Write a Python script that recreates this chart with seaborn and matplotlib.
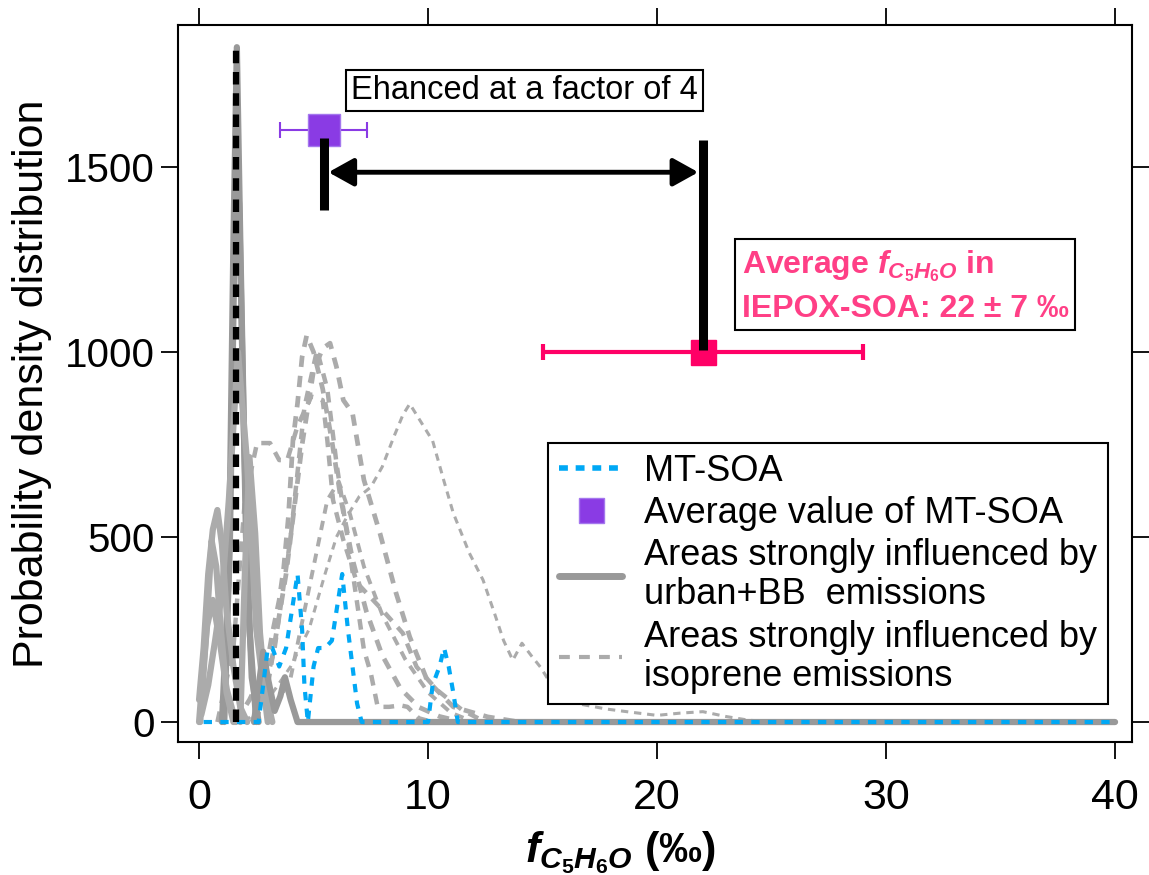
import matplotlib
matplotlib.use("Agg")
import matplotlib.pyplot as plt
from matplotlib.lines import Line2D
from matplotlib.patches import ArrowStyle
import seaborn as sns

# ---- values ----
# MT-SOA probability density (blue dashed)
mt_x = [0.2, 2.6, 2.8, 3.0, 3.2, 3.5, 3.8, 4.05, 4.3, 4.5, 4.6, 4.75, 5.0, 5.2, 5.5, 5.8,
        6.0, 6.25, 6.5, 6.7, 6.9, 7.1, 10.0, 10.2, 10.5, 10.7, 10.9, 11.1, 11.3, 40.0]
mt_y = [0, 0, 100, 200, 200, 150, 200, 300, 400, 250, 100, 0, 150, 200, 200, 220,
        300, 400, 250, 150, 50, 0, 0, 100, 150, 200, 150, 80, 0, 0]

# areas strongly influenced by urban + biomass burning emissions (grey solid)
urban_curves = [
    ([1.0, 1.3, 1.5, 1.65, 1.8, 2.05, 2.3, 2.6],
     [0, 400, 1300, 1824, 1300, 500, 120, 0]),
    ([1.1, 1.35, 1.6, 1.75, 1.95, 2.2, 2.5],
     [0, 500, 1500, 1400, 800, 250, 0]),
    ([0.0, 0.2, 0.4, 0.6, 0.8, 1.0, 1.2, 1.5, 1.8, 2.1],
     [60, 200, 400, 520, 573, 480, 300, 150, 40, 0]),
    ([0.05, 0.3, 0.55, 0.75, 0.95, 1.2, 1.5],
     [0, 230, 490, 420, 250, 80, 0]),
    ([0.1, 0.4, 0.7, 1.0, 1.3, 1.7, 2.1, 2.5, 3.0],
     [20, 100, 220, 350, 600, 1000, 700, 250, 0]),
    ([1.8, 2.0, 2.2, 2.45, 2.66, 2.9, 3.2],
     [0, 400, 716, 510, 240, 80, 0]),
    ([2.4, 2.8, 3.0, 3.3, 3.55, 3.75, 4.0, 4.3, 4.6, 40.0],
     [0, 190, 120, 30, 70, 121, 60, 0, 0, 0]),
    ([0.0, 0.15, 0.35, 0.6, 0.9, 1.2, 1.6],
     [0, 120, 260, 330, 220, 90, 0]),
]

# areas strongly influenced by isoprene emissions (grey dashed)
isoprene_curves = [
    ([1.6, 2.2, 2.6, 2.95, 3.2, 3.5, 3.7, 3.9, 4.1, 4.3, 4.5, 4.7, 5.0, 5.4, 5.8, 6.2,
      6.7, 7.3, 8.0, 8.8, 9.6, 10.5, 11.5],
     [0, 60, 110, 150, 240, 330, 419, 554, 762, 862, 987, 1045, 1000, 900, 760, 600,
      440, 300, 180, 90, 40, 15, 0]),
    ([2.3, 3.0, 3.8, 4.5, 5.0, 5.4, 5.72, 6.0, 6.3, 6.7, 7.2, 7.9, 8.6, 9.2, 9.96,
      11.1, 12.6, 14.0],
     [0, 100, 400, 750, 950, 1010, 1024, 960, 870, 835, 654, 510, 349, 230, 113,
      41, 14, 0]),
    ([0.8, 1.5, 2.0, 2.53, 3.1, 3.5, 3.85, 4.3, 4.9, 5.4, 5.6, 5.85, 6.3, 6.9, 8.0,
      8.9, 9.5, 10.4, 11.5, 12.5],
     [0, 200, 600, 754, 754, 708, 708, 800, 880, 870, 762, 600, 492, 376, 303,
      240, 149, 86, 32, 0]),
    ([2.0, 3.0, 4.0, 4.8, 5.5, 6.0, 6.5, 7.0, 7.5, 8.0, 8.5, 8.9, 9.2, 9.7, 10.2,
      10.7, 11.1, 11.8, 12.4, 12.9, 13.3, 13.7, 14.1, 14.5, 14.9, 15.5, 16.5, 17.8,
      18.8, 20.0, 21.0, 22.0, 23.0, 24.0, 25.0, 40.0],
     [0, 60, 150, 250, 400, 500, 560, 610, 635, 690, 770, 830, 860, 810, 760,
      650, 565, 457, 384, 294, 220, 167, 213, 180, 149, 90, 50, 35,
      27, 18, 24, 28, 15, 5, 0, 0]),
    ([2.5, 3.3, 4.0, 4.6, 5.15, 5.6, 6.0, 6.6, 7.2, 7.5, 7.8, 8.3, 8.8, 9.1, 9.6, 10.2],
     [0, 200, 500, 850, 1005, 900, 700, 450, 195, 132, 41, 41, 45, 41, 10, 0]),
    ([3.0, 4.0, 5.0, 5.6, 6.1, 6.6, 7.2, 8.0, 9.0, 10.0, 11.0, 12.0],
     [0, 120, 420, 600, 650, 560, 420, 290, 170, 80, 25, 0]),
]
iso_widths = [3.4, 3.4, 3.2, 2.2, 3.2, 2.8]

# black dashed reference line
ref_x = [1.6, 1.6]
ref_y = [0, 1824]

# averages with standard deviation
mt_avg_x, mt_avg_y, mt_avg_err = [5.45], [1600], [1.9]
iepox_x, iepox_y, iepox_err = [22.0], [1000], [7.0]

# factor-of-4 bracket
bracket_x = [5.45, 22.0]
bracket_low = [1384, 1005]
bracket_high = [1578, 1573]
arrow_y = 1486

blue = "#00A8F5"
purple = "#8A3BE4"
pink = "#FF0066"
pink_text = "#FF3F86"
grey = "#999999"
light_grey = "#ABABAB"

sns.set_theme(style="ticks")
plt.rcParams["font.family"] = ["Liberation Sans", "DejaVu Sans"]
plt.rcParams["text.color"] = "black"
plt.rcParams["axes.labelcolor"] = "black"
plt.rcParams["xtick.color"] = "black"
plt.rcParams["ytick.color"] = "black"
plt.rcParams["mathtext.fontset"] = "custom"
plt.rcParams["mathtext.it"] = "Liberation Sans:italic:bold"
plt.rcParams["mathtext.rm"] = "Liberation Sans:bold"
plt.rcParams["mathtext.bf"] = "Liberation Sans:bold"

fig = plt.figure(figsize=(11.49, 8.75), dpi=100)
ax = fig.add_axes([178 / 1149, 133 / 875, 954 / 1149, 717 / 875])

for (cx, cy), w in zip(isoprene_curves, iso_widths):
    sns.lineplot(x=cx, y=cy, ax=ax, color=light_grey, lw=w, estimator=None, sort=False,
                 linestyle=(0, (2.4, 1.9)))

for i, (cx, cy) in enumerate(urban_curves):
    col = grey if i in (0, 1, 6) else light_grey
    sns.lineplot(x=cx, y=cy, ax=ax, color=col, lw=4.5, estimator=None, sort=False)

sns.lineplot(x=mt_x, y=mt_y, ax=ax, color=blue, lw=3, estimator=None, sort=False,
             linestyle=(0, (2, 2)))
sns.lineplot(x=ref_x, y=ref_y, ax=ax, color="black", lw=4.5, estimator=None, sort=False,
             linestyle=(0, (2, 1.4)))

ax.errorbar(mt_avg_x, mt_avg_y, xerr=mt_avg_err, fmt="s", color=purple, ms=23,
            mec="#A477EE", elinewidth=1.5, capsize=6, capthick=1.5, zorder=5)
ax.errorbar(iepox_x, iepox_y, xerr=iepox_err, fmt="s", color=pink, ms=18,
            elinewidth=3, capsize=6, capthick=3, zorder=5)
ax.vlines(bracket_x, bracket_low, bracket_high, color="black", lw=6.5, zorder=6)
ax.annotate("", xy=(bracket_x[0] + 0.2, arrow_y), xytext=(bracket_x[1] - 0.2, arrow_y),
            arrowprops=dict(arrowstyle=ArrowStyle("<|-|>", head_length=0.45, head_width=0.25),
                            lw=3.5, color="black", mutation_scale=34,
                            shrinkA=0, shrinkB=0), zorder=6)

ax.text(14.2, 1708, "Ehanced at a factor of 4", fontsize=23.5, ha="center", va="center",
        bbox=dict(boxstyle="square,pad=0.15", fc="white", ec="black", lw=1.5))
ax.text(23.7, 1178, "Average $f_{C_{5}H_{6}O}$ in\nIEPOX-SOA: 22 \u00b1 7 \u2030",
        fontsize=23, fontweight="bold", color=pink_text, ha="left", va="center",
        linespacing=1.4,
        bbox=dict(boxstyle="square,pad=0.2", fc="white", ec="black", lw=1.5))

handles = [
    Line2D([], [], color=blue, lw=4, linestyle=(0, (1.6, 1.4))),
    Line2D([], [], color=purple, marker="s", ms=18, mec="#A477EE", linestyle="none"),
    Line2D([], [], color=grey, lw=5),
    Line2D([], [], color=light_grey, lw=3, linestyle=(0, (2.6, 2.2))),
]
labels = ["MT-SOA", "Average value of MT-SOA",
          "Areas strongly influenced by\nurban+BB  emissions",
          "Areas strongly influenced by\nisoprene emissions"]
leg = ax.legend(handles, labels, loc="upper right", bbox_to_anchor=(1108 / 1149, 432 / 875),
                bbox_transform=fig.transFigure, fontsize=26, frameon=True, fancybox=False,
                edgecolor="black", framealpha=1, handlelength=1.75, handletextpad=0.6,
                borderpad=0.3, labelspacing=0.2, borderaxespad=0)
leg.get_frame().set_linewidth(1.5)
for t in leg.get_texts():
    t.set_linespacing(1.15)

ax.set_xlim(-0.92, 40.74)
ax.set_ylim(-54, 1884)
ax.set_xticks([0, 10, 20, 30, 40])
ax.set_yticks([0, 500, 1000, 1500])
ax.tick_params(direction="out", length=12, width=1.3, top=True, right=True,
               colors="black")
ax.tick_params(axis="y", labelsize=29, pad=5)
ax.tick_params(axis="x", labelsize=31, pad=14)
for s in ax.spines.values():
    s.set_linewidth(1.5)
    s.set_color("black")

ax.set_ylabel("Probability density distribution", fontsize=31)
ax.yaxis.set_label_coords(-0.132, 0.5)
ax.set_xlabel("$f_{C_{5}H_{6}O}$ (\u2030)", fontsize=31, fontweight="bold")
ax.xaxis.set_label_coords(0.464, -0.122)

fig.savefig("out.png", dpi=100)
